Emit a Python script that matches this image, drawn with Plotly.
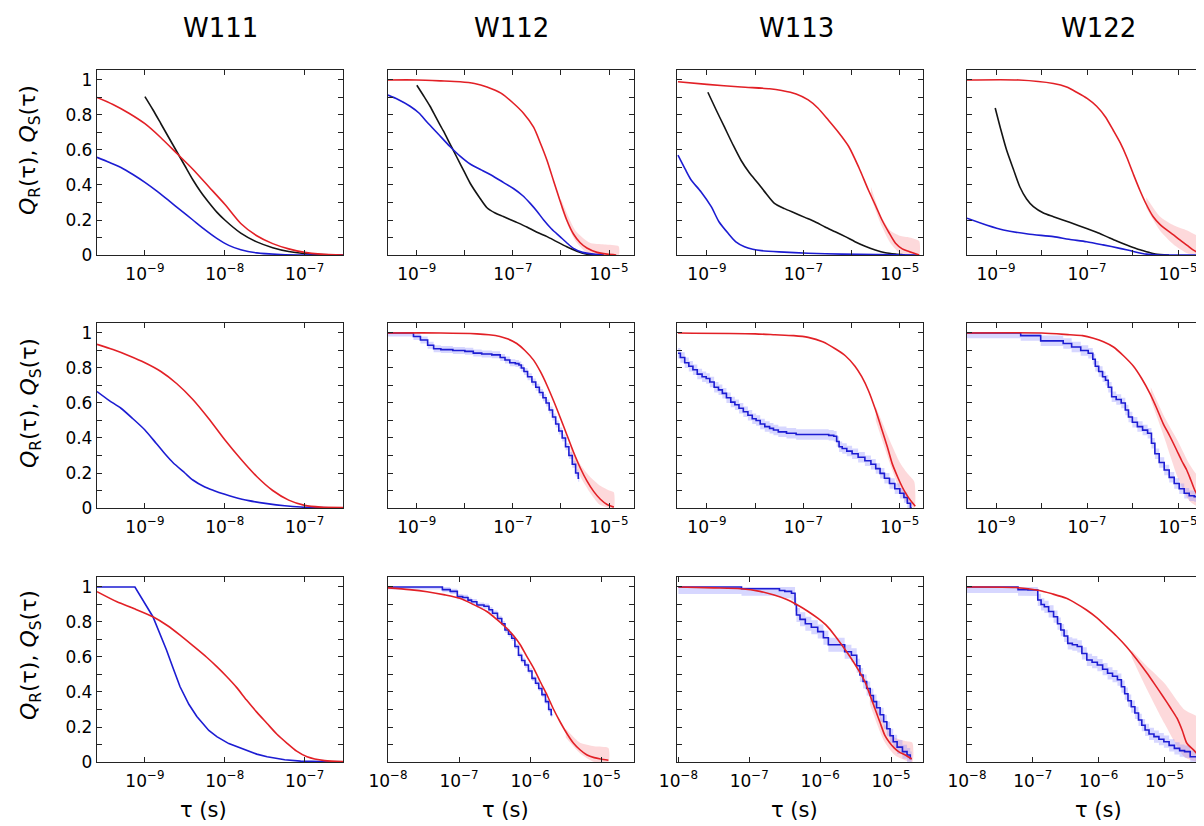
import numpy as np
import plotly.graph_objects as go

# ---------------- data: (log10 tau, Q) pairs ----------------
COLUMNS = ["W111", "W112", "W113", "W122"]

# Row 1
W111_R1_red = [(-9.6,0.90),(-9.4,0.86),(-9.2,0.81),(-9.0,0.75),(-8.8,0.67),(-8.6,0.58),(-8.4,0.49),(-8.2,0.39),
               (-8.0,0.29),(-7.8,0.18),(-7.6,0.11),(-7.4,0.065),(-7.2,0.035),(-7.0,0.015),(-6.8,0.005),(-6.52,0.0)]
W111_R1_blue = [(-9.6,0.558),(-9.45,0.53),(-9.3,0.50),(-9.15,0.46),(-9.0,0.415),(-8.85,0.365),(-8.7,0.31),(-8.55,0.255),
                (-8.4,0.20),(-8.25,0.145),(-8.1,0.095),(-7.95,0.055),(-7.8,0.03),(-7.6,0.012),(-7.3,0.003),(-7.0,0.0),(-6.52,0.0)]
W111_R1_black = [(-9.0,0.905),(-8.9,0.83),(-8.8,0.75),(-8.7,0.67),(-8.6,0.59),(-8.5,0.51),(-8.4,0.43),(-8.3,0.36),(-8.2,0.30),
                 (-8.1,0.245),(-8.0,0.20),(-7.8,0.125),(-7.6,0.075),(-7.4,0.042),(-7.2,0.02),(-7.0,0.008),(-6.8,0.002),(-6.52,0.0)]

W112_R1_red = [(-9.6,1.0),(-9.0,1.0),(-8.5,0.995),(-8.1,0.99),(-7.8,0.98),(-7.54,0.96),(-7.25,0.925),(-6.99,0.867),(-6.78,0.81),
               (-6.57,0.73),(-6.43,0.64),(-6.29,0.54),(-6.15,0.42),(-6.02,0.31),(-5.88,0.20),(-5.74,0.12),(-5.6,0.07),(-5.46,0.04),
               (-5.25,0.015),(-5.04,0.005),(-4.85,0.0)]
W112_R1_blue = [(-9.6,0.914),(-9.4,0.89),(-9.14,0.85),(-8.95,0.81),(-8.79,0.76),(-8.55,0.69),(-8.31,0.62),(-8.1,0.565),(-7.89,0.52),
                (-7.65,0.485),(-7.41,0.45),(-7.2,0.415),(-6.99,0.38),(-6.8,0.34),(-6.64,0.295),(-6.5,0.25),(-6.36,0.20),(-6.2,0.15),
                (-6.02,0.105),(-5.88,0.07),(-5.74,0.038),(-5.55,0.015),(-5.32,0.005),(-5.1,0.0)]
W112_R1_black = [(-9.0,0.97),(-8.86,0.91),(-8.725,0.85),(-8.59,0.78),(-8.45,0.71),(-8.31,0.635),(-8.17,0.56),(-8.03,0.485),(-7.89,0.41),
                 (-7.7,0.33),(-7.54,0.27),(-7.37,0.24),(-7.2,0.22),(-6.95,0.19),(-6.71,0.16),(-6.5,0.13),(-6.29,0.105),(-6.1,0.078),
                 (-5.88,0.047),(-5.67,0.022),(-5.46,0.005),(-5.2,0.0)]
W112_R1_red_band = [(-6.0,0.27,0.32),(-5.7,0.08,0.14),(-5.4,0.0,0.07),(-5.1,0.0,0.06),(-4.8,0.0,0.05)]

W113_R1_red = [(-9.6,0.99),(-9.0,0.975),(-8.29,0.96),(-7.7,0.95),(-7.45,0.94),(-7.15,0.92),(-6.9,0.886),(-6.7,0.84),(-6.48,0.77),
               (-6.27,0.70),(-6.06,0.62),(-5.85,0.50),(-5.65,0.37),(-5.5,0.28),(-5.37,0.20),(-5.23,0.13),(-5.09,0.067),(-4.95,0.035),
               (-4.81,0.02),(-4.6,0.0)]
W113_R1_blue = [(-9.6,0.57),(-9.45,0.49),(-9.33,0.43),(-9.12,0.36),(-8.91,0.276),(-8.75,0.19),(-8.56,0.124),(-8.4,0.075),(-8.22,0.047),
                (-8.05,0.033),(-7.87,0.025),(-7.5,0.018),(-6.9,0.01),(-6.2,0.005),(-5.5,0.002),(-4.6,0.0)]
W113_R1_black = [(-8.98,0.93),(-8.81,0.83),(-8.64,0.733),(-8.46,0.63),(-8.29,0.54),(-8.12,0.47),(-7.94,0.41),(-7.77,0.35),(-7.6,0.295),
                 (-7.39,0.265),(-7.18,0.24),(-6.97,0.215),(-6.76,0.19),(-6.55,0.16),(-6.34,0.133),(-6.13,0.105),(-5.93,0.076),
                 (-5.72,0.05),(-5.51,0.029),(-5.3,0.013),(-5.09,0.005),(-4.9,0.0)]
W113_R1_red_band = [(-5.6,0.33,0.39),(-5.4,0.18,0.23),(-5.2,0.07,0.14),(-5.0,0.01,0.11),(-4.8,0.0,0.10),(-4.6,0.0,0.08)]

W122_R1_red = [(-9.64,1.0),(-8.5,1.0),(-7.74,0.98),(-7.45,0.96),(-7.23,0.93),(-7.0,0.895),(-6.79,0.85),(-6.6,0.79),(-6.42,0.71),
               (-6.27,0.64),(-6.13,0.56),(-5.98,0.46),(-5.84,0.37),(-5.7,0.29),(-5.55,0.22),(-5.4,0.175),(-5.25,0.143),(-5.1,0.115),
               (-4.96,0.086),(-4.8,0.055),(-4.67,0.029),(-4.49,0.005),(-4.3,0.0)]
W122_R1_blue = [(-9.64,0.21),(-9.2,0.17),(-8.84,0.143),(-8.3,0.12),(-7.74,0.105),(-7.4,0.09),(-7.01,0.076),(-6.65,0.058),
                (-6.28,0.038),(-5.98,0.02),(-5.69,0.005),(-5.4,0.0),(-4.3,0.0)]
W122_R1_black = [(-9.02,0.84),(-8.9,0.72),(-8.77,0.60),(-8.62,0.49),(-8.48,0.39),(-8.33,0.32),(-8.18,0.276),(-7.96,0.24),(-7.74,0.219),
                 (-7.37,0.185),(-7.01,0.152),(-6.79,0.13),(-6.57,0.105),(-6.35,0.08),(-6.13,0.057),(-5.91,0.036),(-5.69,0.019),
                 (-5.5,0.005),(-5.2,0.0)]
W122_R1_red_band = [(-5.7,0.27,0.33),(-5.4,0.14,0.22),(-5.1,0.06,0.17),(-4.8,0.01,0.14),(-4.5,0.0,0.10),(-4.3,0.0,0.08)]

# Row 2
W111_R2_red = [(-9.6,0.935),(-9.4,0.905),(-9.2,0.87),(-9.0,0.83),(-8.8,0.78),(-8.6,0.71),(-8.4,0.62),(-8.2,0.51),(-8.0,0.39),
               (-7.8,0.28),(-7.6,0.18),(-7.4,0.10),(-7.2,0.045),(-7.0,0.015),(-6.8,0.005),(-6.52,0.003)]
W111_R2_blue = [(-9.6,0.665),(-9.45,0.615),(-9.3,0.57),(-9.15,0.51),(-9.0,0.446),(-8.86,0.37),(-8.75,0.31),(-8.65,0.26),(-8.5,0.20),
                (-8.4,0.16),(-8.25,0.12),(-8.14,0.10),(-8.0,0.078),(-7.89,0.063),(-7.7,0.042),(-7.47,0.025),(-7.25,0.013),
                (-7.05,0.006),(-6.8,0.002),(-6.52,0.0)]

W112_R2_red = [(-9.6,1.0),(-8.5,1.0),(-7.75,0.995),(-7.5,0.99),(-7.27,0.98),(-7.1,0.965),(-6.92,0.94),(-6.75,0.90),(-6.57,0.845),
               (-6.43,0.78),(-6.29,0.70),(-6.15,0.61),(-6.02,0.52),(-5.88,0.42),(-5.74,0.32),(-5.6,0.23),(-5.46,0.155),
               (-5.32,0.095),(-5.18,0.05),(-5.04,0.02),(-4.9,0.005)]
W112_R2_blue = [(-9.6,1.0),(-9.14,1.0),(-9.0,0.98),(-8.85,0.96),(-8.7,0.93),(-8.6,0.91),(-8.4,0.905),(-8.1,0.90),(-7.9,0.895),
                (-7.75,0.885),(-7.55,0.88),(-7.33,0.875),(-7.2,0.86),(-7.13,0.846),(-7.0,0.83),(-6.9,0.825),(-6.85,0.817),
                (-6.8,0.80),(-6.74,0.78),(-6.65,0.75),(-6.56,0.72),(-6.49,0.69),(-6.41,0.66),(-6.34,0.63),(-6.28,0.60),
                (-6.21,0.56),(-6.14,0.52),(-6.08,0.48),(-6.01,0.44),(-5.94,0.40),(-5.87,0.35),(-5.8,0.30),(-5.73,0.25),
                (-5.66,0.20),(-5.62,0.17)]
W112_R2_blue_hw = 0.02
W112_R2_red_band = [(-5.8,0.29,0.36),(-5.6,0.18,0.25),(-5.4,0.09,0.18),(-5.2,0.02,0.13),(-5.0,0.0,0.10),(-4.9,0.0,0.09)]

W113_R2_red = [(-9.6,1.0),(-8.0,0.995),(-7.59,0.99),(-7.2,0.985),(-6.9,0.975),(-6.6,0.95),(-6.34,0.91),(-6.13,0.87),(-5.93,0.81),
               (-5.79,0.75),(-5.65,0.67),(-5.51,0.565),(-5.37,0.446),(-5.26,0.35),(-5.16,0.255),(-5.05,0.18),(-4.95,0.12),
               (-4.88,0.085),(-4.81,0.055),(-4.74,0.03),(-4.68,0.01)]
W113_R2_blue = [(-9.6,0.884),(-9.5,0.86),(-9.42,0.83),(-9.33,0.81),(-9.25,0.79),(-9.15,0.765),(-9.05,0.75),(-8.98,0.74),(-8.9,0.72),
                (-8.8,0.69),(-8.72,0.675),(-8.64,0.655),(-8.55,0.63),(-8.46,0.605),(-8.38,0.59),(-8.29,0.57),(-8.2,0.55),
                (-8.1,0.53),(-8.02,0.51),(-7.94,0.50),(-7.85,0.48),(-7.75,0.465),(-7.65,0.455),(-7.59,0.446),(-7.45,0.435),
                (-7.25,0.427),(-7.05,0.42),(-6.9,0.42),(-6.7,0.42),(-6.55,0.42),(-6.4,0.415),(-6.34,0.41),(-6.28,0.38),
                (-6.24,0.35),(-6.15,0.34),(-6.05,0.325),(-5.93,0.31),(-5.8,0.29),(-5.65,0.27),(-5.55,0.25),(-5.45,0.225),
                (-5.37,0.198),(-5.27,0.17),(-5.16,0.14),(-5.05,0.11),(-4.95,0.084),(-4.88,0.06),(-4.81,0.027),(-4.75,0.0)]
W113_R2_blue_hw = 0.03
W113_R2_red_band = [(-5.5,0.50,0.58),(-5.2,0.25,0.38),(-5.0,0.10,0.26),(-4.85,0.03,0.20),(-4.7,0.0,0.15)]

W122_R2_red = [(-9.64,1.0),(-8.0,1.0),(-7.38,0.99),(-7.1,0.985),(-6.86,0.97),(-6.64,0.95),(-6.42,0.92),(-6.2,0.87),(-5.98,0.81),
               (-5.8,0.74),(-5.62,0.655),(-5.47,0.57),(-5.33,0.484),(-5.18,0.41),(-5.03,0.33),(-4.92,0.27),(-4.81,0.217),
               (-4.72,0.16),(-4.63,0.10),(-4.54,0.06),(-4.45,0.027),(-4.35,0.005)]
W122_R2_blue = [(-9.64,1.0),(-8.47,1.0),(-8.45,0.985),(-8.04,0.985),(-8.0,0.955),(-7.6,0.955),(-7.45,0.94),(-7.23,0.92),(-7.05,0.9),
                (-6.9,0.884),(-6.85,0.85),(-6.79,0.81),(-6.7,0.78),(-6.62,0.75),(-6.57,0.73),(-6.5,0.69),(-6.42,0.636),
                (-6.3,0.62),(-6.2,0.60),(-6.12,0.56),(-6.06,0.52),(-5.95,0.49),(-5.84,0.465),(-5.72,0.445),(-5.62,0.427),
                (-5.55,0.37),(-5.47,0.31),(-5.36,0.26),(-5.25,0.217),(-5.14,0.175),(-5.03,0.14),(-4.92,0.11),(-4.81,0.084),
                (-4.7,0.07),(-4.59,0.065),(-4.5,0.04),(-4.42,0.02)]
W122_R2_blue_hw = 0.03
W122_R2_red_band = [(-5.6,0.62,0.69),(-5.3,0.40,0.52),(-5.0,0.17,0.38),(-4.75,0.04,0.25),(-4.5,0.0,0.16),(-4.3,0.0,0.12)]

# Row 3
W111_R3_red = [(-9.6,0.973),(-9.35,0.915),(-9.14,0.877),(-8.9,0.83),(-8.72,0.78),(-8.56,0.725),(-8.4,0.665),(-8.23,0.60),
               (-8.1,0.545),(-7.98,0.49),(-7.85,0.425),(-7.73,0.355),(-7.6,0.285),(-7.47,0.22),(-7.35,0.16),(-7.22,0.107),
               (-7.1,0.062),(-6.97,0.03),(-6.75,0.008),(-6.52,0.003)]
W111_R3_blue = [(-9.6,1.0),(-9.125,1.0),(-8.9,0.83),(-8.8,0.72),(-8.73,0.64),(-8.65,0.54),(-8.56,0.43),(-8.45,0.33),(-8.35,0.26),
                (-8.2,0.18),(-8.1,0.145),(-7.95,0.105),(-7.8,0.078),(-7.6,0.045),(-7.47,0.03),(-7.25,0.013),(-7.05,0.005),
                (-6.8,0.001),(-6.52,0.0)]

W112_R3_red = [(-8.0,0.995),(-7.7,0.985),(-7.45,0.973),(-7.2,0.955),(-6.99,0.935),(-6.8,0.90),(-6.61,0.86),(-6.47,0.815),
               (-6.33,0.764),(-6.23,0.72),(-6.14,0.67),(-6.05,0.605),(-5.95,0.535),(-5.86,0.46),(-5.76,0.38),(-5.67,0.30),
               (-5.58,0.23),(-5.48,0.16),(-5.39,0.107),(-5.3,0.07),(-5.2,0.04),(-5.1,0.025),(-5.01,0.017),(-4.9,0.01)]
W112_R3_blue = [(-8.0,1.0),(-7.27,1.0),(-7.2,0.985),(-7.05,0.975),(-7.0,0.945),(-6.9,0.94),(-6.85,0.925),(-6.8,0.916),(-6.7,0.897),
                (-6.6,0.89),(-6.56,0.87),(-6.5,0.85),(-6.42,0.82),(-6.38,0.79),(-6.33,0.754),(-6.28,0.73),(-6.24,0.707),
                (-6.19,0.66),(-6.14,0.61),(-6.1,0.58),(-6.05,0.554),(-6.0,0.52),(-5.95,0.478),(-5.9,0.45),(-5.86,0.42),
                (-5.81,0.385),(-5.76,0.345),(-5.72,0.30),(-5.69,0.27)]
W112_R3_blue_hw = 0.015
W112_R3_red_band = [(-5.5,0.14,0.19),(-5.3,0.05,0.11),(-5.1,0.0,0.09),(-4.9,0.0,0.08)]

W113_R3_red = [(-8.0,1.0),(-7.5,0.995),(-7.12,0.99),(-6.85,0.975),(-6.65,0.954),(-6.48,0.93),(-6.32,0.897),(-6.17,0.86),
               (-6.03,0.82),(-5.9,0.775),(-5.8,0.726),(-5.68,0.66),(-5.56,0.59),(-5.46,0.525),(-5.37,0.46),(-5.3,0.385),
               (-5.23,0.307),(-5.16,0.23),(-5.09,0.154),(-5.02,0.11),(-4.95,0.078),(-4.88,0.055),(-4.8,0.04),(-4.71,0.017)]
W113_R3_blue = [(-8.0,1.0),(-7.12,1.0),(-7.1,0.99),(-6.6,0.99),(-6.55,0.98),(-6.45,0.975),(-6.36,0.964),(-6.35,0.90),(-6.32,0.84),
                (-6.25,0.815),(-6.17,0.79),(-6.08,0.77),(-5.99,0.745),(-5.92,0.71),(-5.85,0.67),(-5.7,0.67),(-5.61,0.63),
                (-5.51,0.61),(-5.46,0.55),(-5.42,0.497),(-5.37,0.46),(-5.32,0.42),(-5.27,0.38),(-5.23,0.345),(-5.18,0.31),
                (-5.13,0.27),(-5.08,0.23),(-5.04,0.19),(-4.99,0.15),(-4.95,0.116),(-4.88,0.085),(-4.8,0.059),(-4.75,0.04),
                (-4.71,0.02)]
W113_R3_blue_hw = 0.04
W113_R3_red_band = [(-5.3,0.33,0.42),(-5.1,0.12,0.22),(-4.95,0.04,0.14),(-4.8,0.01,0.12),(-4.7,0.0,0.11)]

W122_R3_red = [(-8.0,1.0),(-7.26,0.997),(-6.9,0.98),(-6.7,0.96),(-6.49,0.935),(-6.34,0.905),(-6.19,0.87),(-6.03,0.825),
               (-5.88,0.773),(-5.73,0.72),(-5.58,0.66),(-5.43,0.59),(-5.27,0.51),(-5.15,0.445),(-5.02,0.373),(-4.91,0.31),
               (-4.81,0.25),(-4.73,0.18),(-4.66,0.107),(-4.56,0.069),(-4.48,0.035),(-4.41,0.01)]
W122_R3_blue = [(-8.0,1.0),(-7.25,1.0),(-7.2,0.985),(-6.95,0.983),(-6.9,0.926),(-6.85,0.90),(-6.8,0.887),(-6.72,0.86),(-6.65,0.83),
                (-6.6,0.79),(-6.55,0.754),(-6.5,0.72),(-6.44,0.678),(-6.36,0.67),(-6.29,0.66),(-6.22,0.62),(-6.14,0.583),
                (-6.06,0.57),(-5.98,0.554),(-5.9,0.53),(-5.83,0.507),(-5.75,0.49),(-5.68,0.47),(-5.63,0.43),(-5.58,0.39),
                (-5.53,0.35),(-5.48,0.316),(-5.42,0.28),(-5.37,0.24),(-5.32,0.21),(-5.27,0.183),(-5.2,0.16),(-5.12,0.145),
                (-5.05,0.13),(-4.97,0.116),(-4.89,0.095),(-4.81,0.078),(-4.73,0.065),(-4.66,0.059),(-4.56,0.03),(-4.46,0.01)]
W122_R3_blue_hw = 0.035
W122_R3_red_band = [(-5.5,0.60,0.64),(-5.3,0.44,0.56),(-5.0,0.22,0.45),(-4.7,0.03,0.30),(-4.5,0.0,0.26),(-4.35,0.0,0.22)]

# axis ranges (log10 tau) and ticks per panel
XRANGE_ROW12 = [(-9.6, -6.52), (-9.6, -4.48), (-9.62, -4.52), (-9.64, -4.43)]
XRANGE_ROW3 = [(-9.6, -6.52), (-8.0, -4.54), (-8.02, -4.55), (-8.0, -4.40)]
X_TICKS_COL1 = [-9, -8, -7]
X_LABELS_WIDE = [-9, -7, -5]
X_MINOR_WIDE = [-8, -6]
X_TICKS_ROW3 = [-8, -7, -6, -5]

PANELS = [
    [dict(red=W111_R1_red, blue=W111_R1_blue, black=W111_R1_black),
     dict(red=W112_R1_red, blue=W112_R1_blue, black=W112_R1_black, red_band=W112_R1_red_band),
     dict(red=W113_R1_red, blue=W113_R1_blue, black=W113_R1_black, red_band=W113_R1_red_band),
     dict(red=W122_R1_red, blue=W122_R1_blue, black=W122_R1_black, red_band=W122_R1_red_band)],
    [dict(red=W111_R2_red, blue=W111_R2_blue),
     dict(red=W112_R2_red, blue=W112_R2_blue, blue_step=True, blue_hw=W112_R2_blue_hw, red_band=W112_R2_red_band),
     dict(red=W113_R2_red, blue=W113_R2_blue, blue_step=True, blue_hw=W113_R2_blue_hw, red_band=W113_R2_red_band),
     dict(red=W122_R2_red, blue=W122_R2_blue, blue_step=True, blue_hw=W122_R2_blue_hw, red_band=W122_R2_red_band)],
    [dict(red=W111_R3_red, blue=W111_R3_blue, blue_linear=True),
     dict(red=W112_R3_red, blue=W112_R3_blue, blue_step=True, blue_hw=W112_R3_blue_hw, red_band=W112_R3_red_band),
     dict(red=W113_R3_red, blue=W113_R3_blue, blue_step=True, blue_hw=W113_R3_blue_hw, red_band=W113_R3_red_band),
     dict(red=W122_R3_red, blue=W122_R3_blue, blue_step=True, blue_hw=W122_R3_blue_hw, red_band=W122_R3_red_band)],
]

# ---------------- styling / layout ----------------
# the page places the figure 8px from the top-left corner; pixel positions below are page pixels
OFF = 8
W, H = 1196, 818
COL_PX = [(97, 343), (388, 634), (677, 923), (967, 1204)]
ROW_PX = [(70, 255), (323, 508), (577, 762)]
RED = "rgb(226,32,38)"
BLUE = "rgb(28,28,210)"
BLACK = "rgb(20,20,20)"
PINK = "rgba(250,160,165,0.40)"
LBLUE = "rgba(140,140,255,0.35)"
FONT = "DejaVu Sans"
AX_COLOR = "rgb(35,35,35)"
TICKSTYLE = dict(ticks="inside", ticklen=5, tickwidth=1, tickcolor=AX_COLOR)


def fx(px):
    return min(1.0, max(0.0, (px - OFF) / W))


def fy(py):
    return min(1.0, max(0.0, 1 - (py - OFF) / H))


def sup(v):
    return "10<sup>\u2212%d</sup>" % (-v)


def step_expand(xs, ys):
    # centred steps (plotly 'hvh')
    ox, oy = [xs[0]], [ys[0]]
    for i in range(1, len(xs)):
        m = 0.5 * (xs[i - 1] + xs[i])
        ox += [m, m]
        oy += [ys[i - 1], ys[i]]
    ox.append(xs[-1])
    oy.append(ys[-1])
    return ox, oy


fig = go.Figure()
layout = {}
for r in range(3):
    for c in range(4):
        k = r * 4 + c + 1
        xa = "x" if k == 1 else "x%d" % k
        ya = "y" if k == 1 else "y%d" % k
        p = PANELS[r][c]

        if "red_band" in p:
            bx = [10 ** b[0] for b in p["red_band"]]
            lo = [b[1] for b in p["red_band"]]
            hi = [b[2] for b in p["red_band"]]
            fig.add_trace(go.Scatter(x=bx + bx[::-1], y=hi + lo[::-1], fill="toself", fillcolor=PINK,
                                     line=dict(width=0, shape="spline", smoothing=0.6), mode="lines",
                                     xaxis=xa, yaxis=ya, showlegend=False, hoverinfo="skip"))
        if "blue_hw" in p:
            lt = [q[0] for q in p["blue"]]
            qq = [q[1] for q in p["blue"]]
            sx, sy = step_expand(lt, qq)
            hw = p["blue_hw"]
            hi = [min(1.0, v + hw) for v in sy]
            lo = [max(0.0, v - hw) for v in sy]
            bx = [10 ** v for v in sx]
            fig.add_trace(go.Scatter(x=bx + bx[::-1], y=hi + lo[::-1], fill="toself", fillcolor=LBLUE,
                                     line=dict(width=0), mode="lines", xaxis=xa, yaxis=ya,
                                     showlegend=False, hoverinfo="skip"))

        for name, color in (("black", BLACK), ("blue", BLUE), ("red", RED)):
            if name not in p:
                continue
            lt = [q[0] for q in p[name]]
            qq = [q[1] for q in p[name]]
            if name == "blue" and p.get("blue_step"):
                line = dict(color=color, width=1.6, shape="hvh")
            elif name == "blue" and p.get("blue_linear"):
                line = dict(color=color, width=1.6, shape="linear")
            else:
                line = dict(color=color, width=1.6, shape="spline", smoothing=0.7)
            fig.add_trace(go.Scatter(x=[10 ** v for v in lt], y=qq, mode="lines", line=line,
                                     xaxis=xa, yaxis=ya, showlegend=False, hoverinfo="skip"))

        x0, x1 = COL_PX[c]
        y0, y1 = ROW_PX[r]
        xr = XRANGE_ROW3[c] if r == 2 else XRANGE_ROW12[c]
        if c == 0:
            tv, minor_v = X_TICKS_COL1, []
        elif r == 2:
            tv, minor_v = X_TICKS_ROW3, []
        else:
            tv, minor_v = X_LABELS_WIDE, X_MINOR_WIDE
        xdef = dict(
            domain=[fx(x0), fx(x1)], anchor=ya, type="log", range=list(xr), automargin=False,
            tickmode="array", tickvals=[10 ** v for v in tv], ticktext=[sup(v) for v in tv],
            showline=True, linecolor=AX_COLOR, linewidth=1.3, mirror="ticks", ticklabelstandoff=3,
            showgrid=False, zeroline=False, tickfont=dict(family=FONT, size=17, color="black"), **TICKSTYLE,
        )
        if minor_v:
            xdef["minor"] = dict(tickmode="array", tickvals=[10 ** v for v in minor_v], showgrid=False, **TICKSTYLE)
        layout["xaxis" if k == 1 else "xaxis%d" % k] = xdef
        layout["yaxis" if k == 1 else "yaxis%d" % k] = dict(
            domain=[fy(y1), fy(y0)], anchor=xa, range=[0, 1.057], automargin=False,
            tick0=0, dtick=0.2, showticklabels=(c == 0),
            minor=dict(dtick=0.1, tick0=0, showgrid=False, **TICKSTYLE),
            showline=True, linecolor=AX_COLOR, linewidth=1.3, mirror=("ticks" if c < 3 else False),
            showgrid=False, zeroline=False, tickfont=dict(family=FONT, size=17, color="black"), **TICKSTYLE,
        )

annotations = []
TITLE_X = [220, 511, 797, 1098]
for c, name in enumerate(COLUMNS):
    annotations.append(dict(text=name, x=fx(TITLE_X[c]), y=fy(28), xref="paper", yref="paper",
                            showarrow=False, font=dict(family=FONT, size=26, color="black"),
                            xanchor="center", yanchor="middle"))
XT_X = [203, 505, 795, 1098]
for c in range(4):
    annotations.append(dict(text="\u03c4 (s)", x=fx(XT_X[c]), y=fy(810), xref="paper", yref="paper",
                            showarrow=False, font=dict(family=FONT, size=21, color="black"),
                            xanchor="center", yanchor="middle"))
YL_Y = [150, 403, 655]
for r in range(3):
    annotations.append(dict(text="<i>Q</i><sub>R</sub>(\u03c4), <i>Q</i><sub>S</sub>(\u03c4)",
                            x=fx(30), y=fy(YL_Y[r]), xref="paper", yref="paper", textangle=-90,
                            showarrow=False, font=dict(family=FONT, size=22, color="black"),
                            xanchor="center", yanchor="middle"))

fig.update_layout(template="none", width=W, height=H, margin=dict(l=0, r=0, t=0, b=0, pad=0),
                  autosize=False, paper_bgcolor="white", plot_bgcolor="white", showlegend=False,
                  annotations=annotations, **layout)
fig.write_html("out.html")
